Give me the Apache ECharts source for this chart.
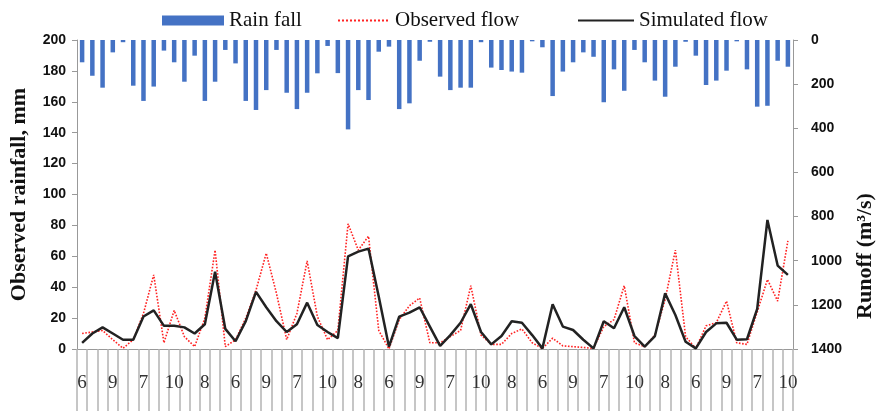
<!DOCTYPE html>
<html><head><meta charset="utf-8">
<script src="https://cdn.jsdelivr.net/npm/echarts@6/dist/echarts.min.js"></script>
<style>html,body{margin:0;padding:0;background:#fff}#c{width:876px;height:412px}</style>
</head><body><div id="c"></div>
<script>
var monthCycle = ["6","7","8","9","10"];
var categories = [];
for (var y = 0; y < 14; y++) { for (var m = 0; m < 5; m++) categories.push(monthCycle[m]); }

var rainFall = [101,162,216,56,10,207,276,211,48,101,189,71,276,189,45,106,276,317,227,45,239,313,239,151,27,150,
  405,227,272,53,30,313,287,94,8,166,227,216,216,10,125,136,143,148,6,33,254,143,101,
  56,76,282,133,230,45,101,184,257,121,8,71,204,184,139,6,133,302,298,94,121];
var observedFlow = [10,11,12,6,0.5,6,23,48,4,25,8,1.5,20,64,1.5,6,20,38,62,36,6,23,57,21,6,12,
  81,64,73,12,0,19,28,33,4,4,8,12,41,9,3,3,10,13,4,0.3,7,2,1.5,1,
  0.4,14.5,19,41,4,1.5,9,32,64,8,0.4,15,17,31,4,3,24,45,31,70];
var simulatedFlow = [4,10,14,10,6,6,21,25,15,15,14,10,16,50,13,5,18,37,27,18,11,16,30,15.5,11,7,
  60,63,65,34,1.5,21,23.5,27,14.5,2,9,17,29,11,3,8.4,18,17,9,0.4,29,14.5,12.3,6,
  0.4,18,13.4,27,8.4,1.5,8.4,36,22,4.7,0.4,11,16.6,17,6,6.3,26,83.5,54,48];
var runoffTicks = [0,200,400,600,800,1000,1200,1400];

var serif = '"Liberation Serif","Times New Roman",serif';
var sans = '"Liberation Sans",Arial,sans-serif';
var chart = echarts.init(document.getElementById('c'));
var legText = {fontFamily: serif, fontSize: 21, color: '#111'};
chart.setOption({
  animation: false,
  legend: [
    {data:[{name:'Rain fall', icon:'rect'}], left:157, top:5, itemWidth:62, itemHeight:10, textStyle:legText},
    {data:['Observed flow'], left:332, top:5, itemWidth:52, itemHeight:10, textStyle:legText, itemStyle:{opacity:0}},
    {data:['Simulated flow'], left:572, top:5, itemWidth:56, itemHeight:10, textStyle:legText, itemStyle:{opacity:0}}
  ],
  grid: {left:73, right:83, top:40, bottom:63},
  xAxis: {
    type:'category', data:categories, boundaryGap:true,
    axisLine:{lineStyle:{color:'#999'}},
    axisTick:{show:true, interval:0, length:62, lineStyle:{color:'#b4b4b4', width:1.5}},
    axisLabel:{interval:2, margin:25, fontFamily:serif, fontSize:19, color:'#333'}
  },
  yAxis: [
    {type:'value', min:0, max:200, interval:20, position:'left',
     name:'Observed rainfall, mm', nameLocation:'middle', nameRotate:90, nameGap:47,
     nameTextStyle:{fontFamily:serif, fontSize:22, fontWeight:'bold', color:'#111'},
     axisLine:{show:true, lineStyle:{color:'#999'}}, axisTick:{show:true, length:5, lineStyle:{color:'#999'}},
     splitLine:{show:false},
     axisLabel:{fontFamily:sans, fontSize:14, fontWeight:'bold', color:'#111', margin:11}},
    {type:'value', min:runoffTicks[0], max:runoffTicks[runoffTicks.length-1], interval:200, position:'right', inverse:true,
     axisLine:{show:true, lineStyle:{color:'#999'}}, axisTick:{show:true, length:5, lineStyle:{color:'#999'}},
     splitLine:{show:false},
     axisLabel:{fontFamily:sans, fontSize:14, fontWeight:'bold', color:'#111', margin:18,
       formatter:function(v){return String(v);}}}
  ],
  graphic: [
    {type:'text', x:865, y:256, rotation:Math.PI/2,
     style:{text:'Runoff (m³/s)', fontFamily:serif, fontSize:22, fontWeight:'bold', fill:'#111',
       textAlign:'center', textVerticalAlign:'middle'}}
  ],
  series: [
    {name:'Rain fall', type:'bar', yAxisIndex:1, data:rainFall, barWidth:4.5,
     itemStyle:{color:'#4472C4'}},
    {name:'Observed flow', type:'line', yAxisIndex:0, data:observedFlow, showSymbol:false, symbol:'none',
     lineStyle:{color:'#f22', width:1.6, type:'dotted'}, itemStyle:{color:'#f22'}},
    {name:'Simulated flow', type:'line', yAxisIndex:0, data:simulatedFlow, showSymbol:false, symbol:'none',
     lineStyle:{color:'#222', width:2.5}, itemStyle:{color:'#222'}}
  ]
});
</script></body></html>
